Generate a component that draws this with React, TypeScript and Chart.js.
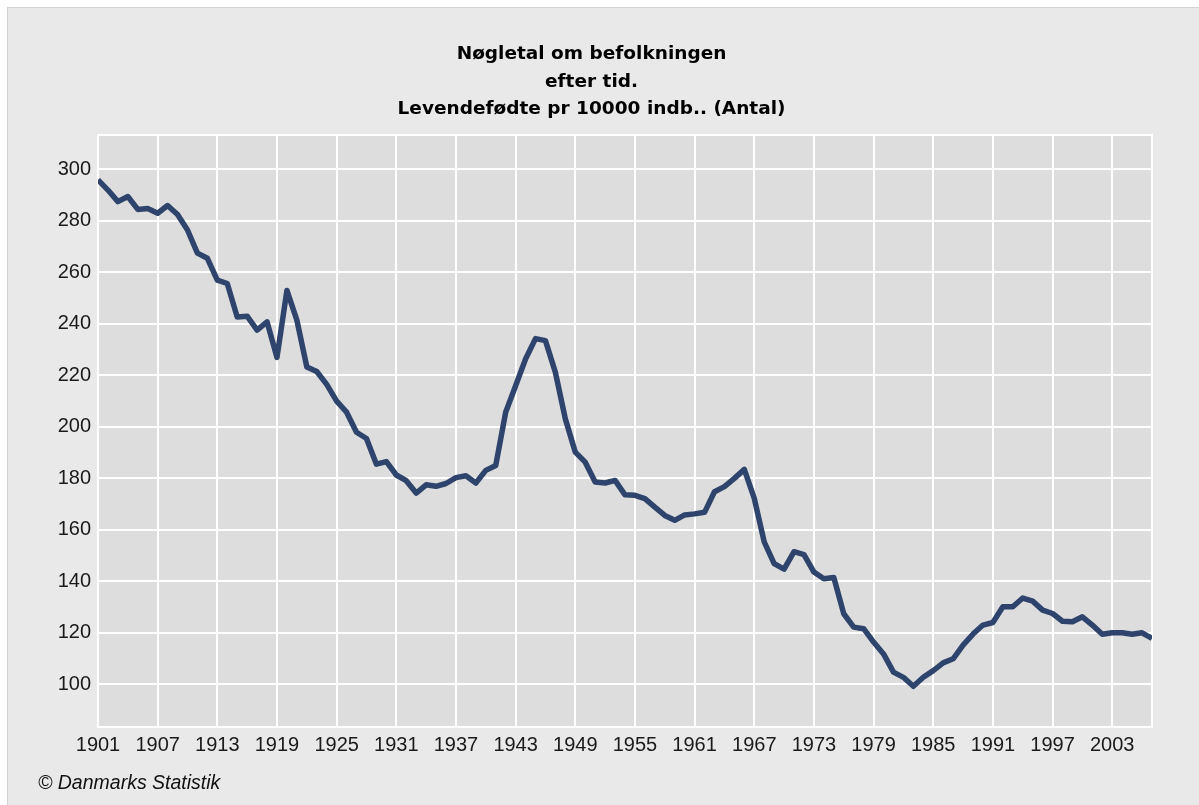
import React, { useEffect, useRef } from "react";
import { Chart, registerables } from "chart.js";

Chart.register(...registerables);

const TITLE_LINES = ["Nøgletal om befolkningen", "efter tid.", "Levendefødte pr 10000 indb.. (Antal)"];
const SOURCE_TEXT = "© Danmarks Statistik";

const YEARS = [
  1901, 1902, 1903, 1904, 1905, 1906, 1907, 1908, 1909, 1910,
  1911, 1912, 1913, 1914, 1915, 1916, 1917, 1918, 1919, 1920,
  1921, 1922, 1923, 1924, 1925, 1926, 1927, 1928, 1929, 1930,
  1931, 1932, 1933, 1934, 1935, 1936, 1937, 1938, 1939, 1940,
  1941, 1942, 1943, 1944, 1945, 1946, 1947, 1948, 1949, 1950,
  1951, 1952, 1953, 1954, 1955, 1956, 1957, 1958, 1959, 1960,
  1961, 1962, 1963, 1964, 1965, 1966, 1967, 1968, 1969, 1970,
  1971, 1972, 1973, 1974, 1975, 1976, 1977, 1978, 1979, 1980,
  1981, 1982, 1983, 1984, 1985, 1986, 1987, 1988, 1989, 1990,
  1991, 1992, 1993, 1994, 1995, 1996, 1997, 1998, 1999, 2000,
  2001, 2002, 2003, 2004, 2005, 2006, 2007,
];

const BIRTHS_PER_10000 = [
  296, 292, 287.5, 289.5, 284.5, 284.8, 283, 286, 282.5, 276.5,
  267.5, 265.5, 257, 255.7, 242.7, 243, 237.6, 240.8, 227, 253,
  241.5, 223.3, 221.5, 216.5, 210, 205.7, 197.9, 195.5, 185.5, 186.5,
  181.3, 179.1, 174.3, 177.5, 176.9, 178, 180.3, 181, 178.2, 183.1,
  185, 205.7, 216, 226.4, 234.3, 233.5, 221.2, 203.1, 190.2, 186.3,
  178.6, 178.2, 179.2, 173.6, 173.4, 172.1, 168.8, 165.6, 163.7, 165.8,
  166.2, 166.8, 174.8, 176.8, 180, 183.5, 172.2, 155.3, 146.9, 144.7,
  151.5, 150.4, 143.6, 141, 141.5, 127.4, 122.2, 121.6, 116.4, 111.8,
  104.7, 102.7, 99.2, 102.7, 105.3, 108.3, 109.9, 115.2, 119.5, 123,
  124, 130.1, 130.1, 133.5, 132.3, 128.8, 127.5, 124.5, 124.3, 126.2,
  123, 119.4, 120, 120, 119.4, 120, 117.8,
];

const X_TICKS = [1901, 1907, 1913, 1919, 1925, 1931, 1937, 1943, 1949, 1955, 1961, 1967, 1973, 1979, 1985, 1991, 1997, 2003];
const Y_TICKS = [100, 120, 140, 160, 180, 200, 220, 240, 260, 280, 300];

const CANVAS_W = 1167;
const CANVAS_H = 797;

const decorPlugin = {
  id: "decor",
  beforeDraw(chart: any) {
    const { ctx, chartArea: a } = chart;
    ctx.save();
    ctx.fillStyle = "#dddddd";
    ctx.fillRect(a.left, a.top, a.right - a.left, a.bottom - a.top);
    ctx.restore();
  },
  beforeDatasetsDraw(chart: any) {
    const { ctx, chartArea: a } = chart;
    ctx.save();
    ctx.strokeStyle = "#ffffff";
    ctx.lineWidth = 2;
    ctx.strokeRect(a.left, a.top, a.right - a.left, a.bottom - a.top);
    ctx.restore();
  },
  afterDraw(chart: any) {
    const { ctx } = chart;
    ctx.save();
    ctx.fillStyle = "#000000";
    ctx.textAlign = "center";
    ctx.textBaseline = "alphabetic";
    ctx.font = 'bold 18.5px "DejaVu Sans", Verdana, sans-serif';
    const baselines = [50.5, 78.5, 106];
    TITLE_LINES.forEach((t, i) => ctx.fillText(t, CANVAS_W / 2, baselines[i]));
    ctx.textAlign = "left";
    ctx.font = 'italic 19.5px "Liberation Sans", Arial, sans-serif';
    ctx.fillStyle = "#111111";
    ctx.fillText(SOURCE_TEXT, 30, 781);
    ctx.restore();
  },
};

export default function App() {
  const ref = useRef<HTMLCanvasElement | null>(null);

  useEffect(() => {
    if (!ref.current) return;
    const data = YEARS.map((y, i) => ({ x: y, y: BIRTHS_PER_10000[i] }));
    const tickFont = { family: '"Liberation Sans", Arial, sans-serif', size: 20 };
    const chart = new Chart(ref.current, {
      type: "line",
      data: {
        datasets: [
          {
            label: "Levendefødte pr 10000 indb.",
            data,
            borderColor: "#2e446c",
            borderWidth: 5.5,
            pointRadius: 0,
            tension: 0,
            borderJoinStyle: "round",
            borderCapStyle: "butt",
            fill: false,
          },
        ],
      },
      options: {
        responsive: false,
        animation: false,
        devicePixelRatio: 1,
        layout: { padding: { top: 127, right: CANVAS_W - 1144, left: 0, bottom: 0 } },
        plugins: { legend: { display: false }, title: { display: false }, tooltip: { enabled: false } },
        scales: {
          x: {
            type: "linear",
            min: 1901,
            max: 2007,
            afterBuildTicks: (scale: any) => {
              scale.ticks = X_TICKS.map((v) => ({ value: v }));
            },
            afterFit: (scale: any) => {
              scale.height = CANVAS_H - 719;
            },
            grid: { color: "#ffffff", lineWidth: 2, drawTicks: false },
            border: { display: false },
            ticks: {
              autoSkip: false,
              maxRotation: 0,
              padding: 6,
              color: "#1a1a1a",
              font: tickFont,
              callback: (v: any) => String(v),
            },
          },
          y: {
            type: "linear",
            min: 83.4,
            max: 313.4,
            afterBuildTicks: (scale: any) => {
              scale.ticks = Y_TICKS.map((v) => ({ value: v }));
            },
            afterFit: (scale: any) => {
              scale.width = 90;
            },
            grid: { color: "#ffffff", lineWidth: 2, drawTicks: false },
            border: { display: false },
            ticks: {
              padding: 7,
              color: "#1a1a1a",
              font: tickFont,
              callback: (v: any) => String(v),
            },
          },
        },
      },
      plugins: [decorPlugin],
    } as any);
    return () => chart.destroy();
  }, []);

  return (
    <div
      style={{
        position: "fixed",
        left: 7,
        top: 7,
        width: 1192,
        height: 798,
        boxSizing: "border-box",
        background: "#e9e9e9",
        borderLeft: "1px solid #d2d2d2",
        borderTop: "1px solid #d2d2d2",
        overflow: "hidden",
      }}
    >
      <canvas ref={ref} width={CANVAS_W} height={CANVAS_H} style={{ display: "block", width: CANVAS_W, height: CANVAS_H }} />
    </div>
  );
}
